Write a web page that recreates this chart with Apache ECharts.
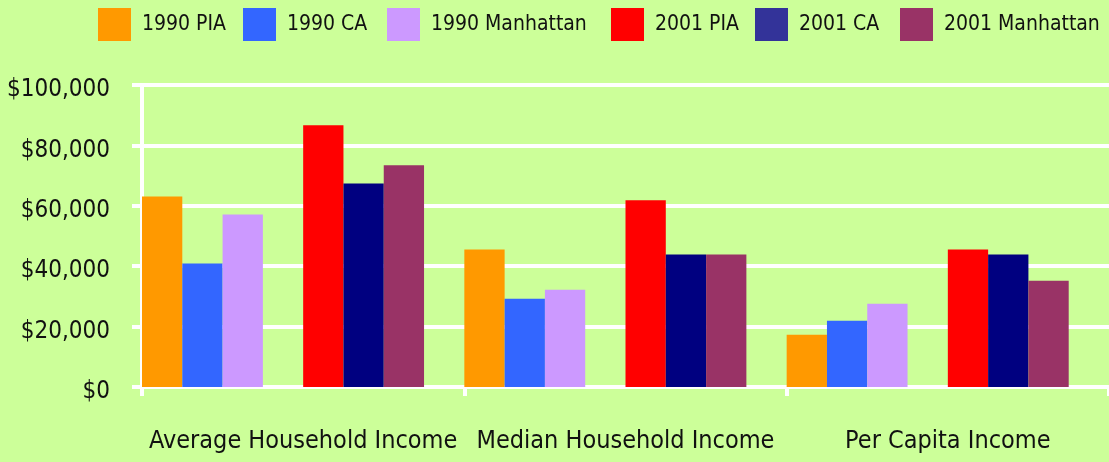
<!DOCTYPE html>
<html>
<head>
<meta charset="utf-8">
<script src="https://cdn.jsdelivr.net/npm/echarts@6/dist/echarts.min.js"></script>
<style>
html,body{margin:0;padding:0;background:#ccff99;}
#chart{width:1109px;height:462px;}
</style>
</head>
<body>
<div id="chart"></div>
<script>
const categories = ['Average Household Income', 'Median Household Income', 'Per Capita Income'];
const seriesNames = ['1990 PIA', '1990 CA', '1990 Manhattan', '2001 PIA', '2001 CA', '2001 Manhattan'];
const pia1990 = [63100, 45500, 17300];
const ca1990 = [40900, 29200, 21900];
const manhattan1990 = [57100, 32200, 27600];
const pia2001 = [86700, 61800, 45500];
const ca2001 = [67400, 43900, 43900];
const manhattan2001 = [73400, 43900, 35200];
const yTicks = [0, 20000, 40000, 60000, 80000, 100000];

const barColors = ['#ff9900', '#3366ff', '#cc99ff', '#ff0000', '#000080', '#993366'];
const legendColors = ['#ff9900', '#3366ff', '#cc99ff', '#ff0000', '#333399', '#993366'];
const legendLefts = [98, 243, 387, 611, 755, 900];

const FONT = '"Liberation Sans Narrow", "Arial Narrow", "DejaVu Sans Condensed", sans-serif';
const chart = echarts.init(document.getElementById('chart'));

function bar(i, data) {
  return { name: seriesNames[i], type: 'bar', data, itemStyle: { color: barColors[i] }, barGap: '0%', barCategoryGap: '0%' };
}
function gap(name) {
  return { name, type: 'bar', data: categories.map(() => '-'), barGap: '0%', barCategoryGap: '0%' };
}

const legends = seriesNames.map((n, i) => ({
  left: legendLefts[i], top: 8, padding: 0,
  itemWidth: 33, itemHeight: 33, icon: 'rect',
  selectedMode: false,
  textStyle: { fontFamily: FONT, fontSize: 21, color: '#111', padding: [3, 0, 0, 6] },
  data: [{ name: n, itemStyle: { color: legendColors[i] } }]
}));

chart.setOption({
  backgroundColor: '#ccff99',
  animation: false,
  textStyle: { fontFamily: FONT },
  legend: legends,
  grid: { left: 142, right: 0, top: 85, bottom: 75, containLabel: false, outerBoundsMode: 'none' },
  xAxis: {
    type: 'category', data: categories,
    axisLine: { lineStyle: { color: '#ffffff', width: 4 } },
    axisTick: { show: true, length: 9, lineStyle: { color: '#ffffff', width: 4 } },
    axisLabel: { margin: 42, fontSize: 25, color: '#111', fontFamily: FONT, interval: 0 }
  },
  yAxis: {
    type: 'value', min: 0, max: 100000, interval: 20000,
    axisLine: { show: true, lineStyle: { color: '#ffffff', width: 4 } },
    axisTick: { show: true, length: 10, lineStyle: { color: '#ffffff', width: 4 } },
    splitLine: { lineStyle: { color: '#ffffff', width: 4 } },
    axisLabel: {
      margin: 32, fontSize: 24, color: '#111', fontFamily: FONT,
      verticalAlign: 'top', lineHeight: 10,
      formatter: v => yTicks.includes(v) ? '$' + v.toLocaleString('en-US') : ''
    }
  },
  series: [
    bar(0, pia1990),
    bar(1, ca1990),
    bar(2, manhattan1990),
    gap('gap1'),
    bar(3, pia2001),
    bar(4, ca2001),
    bar(5, manhattan2001),
    gap('gap2')
  ]
});
</script>
</body>
</html>
